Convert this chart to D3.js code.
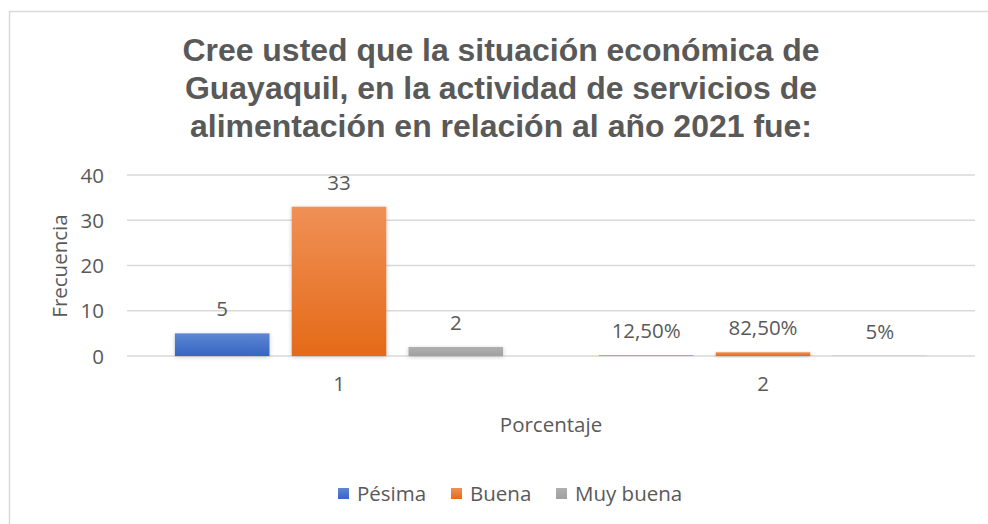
<!DOCTYPE html>
<html lang="es">
  <head>
    <meta charset="utf-8" />
    <title>Situación económica de Guayaquil 2021</title>
    <script src="https://d3js.org/d3.v7.min.js"></script>
    <style>
      body {
        margin: 0;
        background: #fff;
      }

      text {
        fill: #595959;
        font-family: "Open Sans", sans-serif;
      }

      .title {
        font-family: "Liberation Sans", Arial, sans-serif;
        font-weight: bold;
        font-size: 32px;
      }

      .grid line {
        stroke: #d9d9d9;
        stroke-width: 1.5;
      }
    </style>
  </head>

  <body>
    <svg id="chart"></svg>

    <script>
      // data
      const categories = ["1", "2"];
      const seriesNames = ["Pésima", "Buena", "Muy buena"];
      const frecuencia = [5, 33, 2];
      const porcentaje = [0.125, 0.825, 0.05];
      const frecuenciaLabels = ["5", "33", "2"];
      const porcentajeLabels = ["12,50%", "82,50%", "5%"];
      const yTicks = [0, 10, 20, 30, 40];
      const titleLines = [
        "Cree usted que la situación económica de",
        "Guayaquil, en la actividad de servicios de",
        "alimentación en relación al año 2021 fue:",
      ];

      const colors = [
        { top: "#5e87d3", bottom: "#3665c3" },
        { top: "#f09057", bottom: "#e46a18" },
        { top: "#b0b0b0", bottom: "#a0a0a0" },
      ];

      const width = 988;
      const height = 524;
      const fontSize = 20.5;
      const plot = { left: 127, right: 975, top: 175, bottom: 356 };

      const svg = d3.select("#chart").attr("width", width).attr("height", height);

      // gradients + shadow
      const defs = svg.append("defs");
      colors.forEach((c, i) => {
        const grad = defs
          .append("linearGradient")
          .attr("id", `grad${i}`)
          .attr("x1", 0)
          .attr("y1", 0)
          .attr("x2", 0)
          .attr("y2", 1);
        grad.append("stop").attr("offset", "0%").attr("stop-color", c.top);
        grad.append("stop").attr("offset", "100%").attr("stop-color", c.bottom);
      });
      defs
        .append("filter")
        .attr("id", "shadow")
        .attr("x", "-20%")
        .attr("y", "-20%")
        .attr("width", "140%")
        .attr("height", "160%")
        .append("feDropShadow")
        .attr("dx", 0)
        .attr("dy", 1)
        .attr("stdDeviation", 2)
        .attr("flood-color", "#000")
        .attr("flood-opacity", 0.2);

      // chart frame (cut off at right and bottom)
      svg
        .append("rect")
        .attr("x", 9.5)
        .attr("y", 11.5)
        .attr("width", 1000)
        .attr("height", 1000)
        .attr("fill", "none")
        .attr("stroke", "#d9d9d9")
        .attr("stroke-width", 1.5);

      // title
      const titleWidths = [637, 632, 622];
      svg
        .append("g")
        .selectAll("text")
        .data(titleLines)
        .join("text")
        .attr("class", "title")
        .attr("x", 501)
        .attr("y", (d, i) => 61 + i * 38)
        .attr("text-anchor", "middle")
        .attr("textLength", (d, i) => titleWidths[i])
        .attr("lengthAdjust", "spacingAndGlyphs")
        .text((d) => d);

      // scales
      const x0 = d3.scaleBand().domain(categories).range([plot.left, plot.right]);
      const x1 = d3
        .scaleBand()
        .domain(seriesNames)
        .range([0, x0.bandwidth()])
        .paddingInner(0.19)
        .paddingOuter(0.41);
      const y = d3.scaleLinear().domain([0, 40]).range([plot.bottom, plot.top]);

      // gridlines
      svg
        .append("g")
        .attr("class", "grid")
        .selectAll("line")
        .data(yTicks)
        .join("line")
        .attr("x1", plot.left)
        .attr("x2", plot.right)
        .attr("y1", (d) => y(d))
        .attr("y2", (d) => y(d));

      // y axis
      const yAxis = d3.axisLeft(y).tickValues(yTicks).tickSize(0).tickPadding(0);
      const gy = svg.append("g").attr("transform", "translate(104,0)").call(yAxis);
      gy.select(".domain").remove();
      gy.selectAll("text")
        .attr("font-size", fontSize)
        .attr("font-family", "Open Sans, sans-serif")
        .attr("fill", "#595959")
        .attr("dy", "0.35em");

      // x axis labels
      const xAxis = d3.axisBottom(x0).tickSize(0).tickPadding(0);
      const gx = svg.append("g").attr("transform", "translate(0,376)").call(xAxis);
      gx.select(".domain").remove();
      gx.selectAll("text")
        .attr("font-size", fontSize)
        .attr("font-family", "Open Sans, sans-serif")
        .attr("fill", "#595959")
        .attr("dy", "0.75em");

      // axis titles
      svg
        .append("text")
        .attr("transform", "translate(67,266) rotate(-90)")
        .attr("text-anchor", "middle")
        .attr("font-size", fontSize)
        .text("Frecuencia");

      svg
        .append("text")
        .attr("x", (plot.left + plot.right) / 2)
        .attr("y", 432)
        .attr("text-anchor", "middle")
        .attr("font-size", fontSize)
        .text("Porcentaje");

      // bars
      const groups = [
        { cat: categories[0], values: frecuencia, labels: frecuenciaLabels },
        { cat: categories[1], values: porcentaje, labels: porcentajeLabels },
      ];

      const barData = groups.flatMap((g) =>
        seriesNames.map((s, i) => ({ cat: g.cat, series: s, idx: i, value: g.values[i], label: g.labels[i] }))
      );

      svg
        .append("g")
        .selectAll("rect")
        .data(barData)
        .join("rect")
        .attr("x", (d) => x0(d.cat) + x1(d.series))
        .attr("y", (d) => y(d.value))
        .attr("width", x1.bandwidth())
        .attr("height", (d) => y(0) - y(d.value))
        .attr("fill", (d) => `url(#grad${d.idx})`)
        .attr("filter", "url(#shadow)");

      // data labels
      svg
        .append("g")
        .selectAll("text")
        .data(barData)
        .join("text")
        .attr("x", (d) => x0(d.cat) + x1(d.series) + x1.bandwidth() / 2)
        .attr("y", (d) => y(d.value) - 17)
        .attr("text-anchor", "middle")
        .attr("font-size", fontSize)
        .text((d) => d.label);

      // legend
      const legendX = [338, 451, 556];
      const legend = svg
        .append("g")
        .selectAll("g")
        .data(seriesNames)
        .join("g")
        .attr("transform", (d, i) => `translate(${legendX[i]},488)`);
      legend
        .append("rect")
        .attr("width", 11)
        .attr("height", 11)
        .attr("fill", (d, i) => `url(#grad${i})`);
      legend
        .append("text")
        .attr("x", 19)
        .attr("y", 12.5)
        .attr("font-size", fontSize)
        .text((d) => d);
    </script>
  </body>
</html>
